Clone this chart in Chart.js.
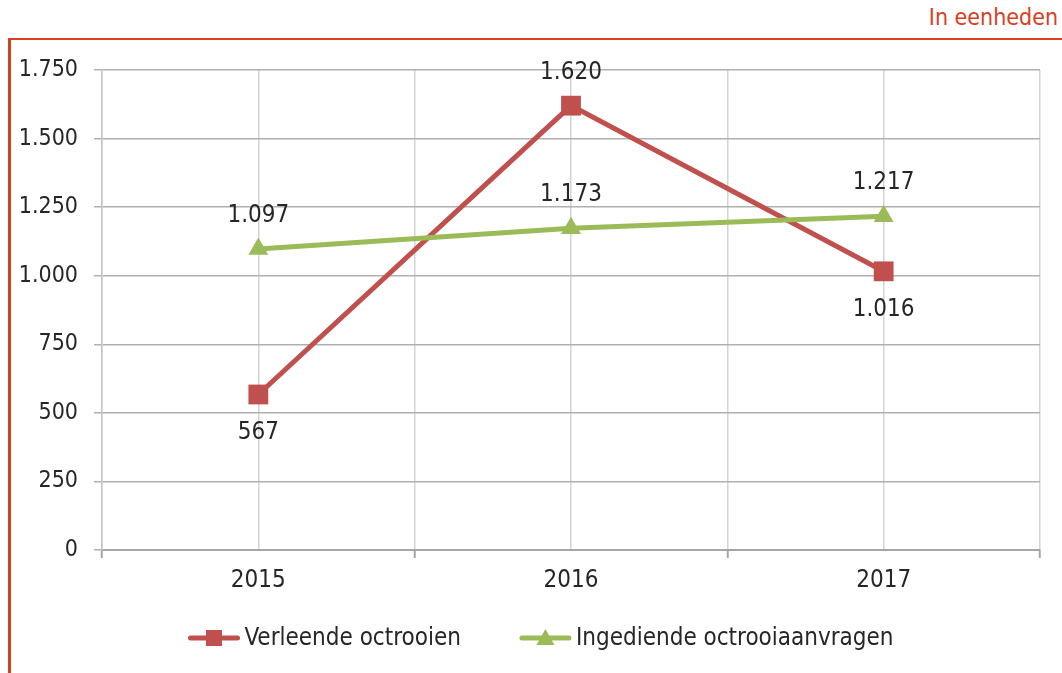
<!DOCTYPE html>
<html>
<head>
<meta charset="utf-8">
<script src="https://cdn.jsdelivr.net/npm/chart.js@4.4.1/dist/chart.umd.min.js"></script>
<style>
  html, body { margin: 0; padding: 0; background: #ffffff; }
  #wrap { position: relative; width: 1062px; height: 673px; overflow: hidden; }
  #unit { position: absolute; right: 4px; top: 4px; font-family: 'Liberation Sans Narrow', 'DejaVu Sans Condensed', Roboto, sans-serif; font-size: 23px; color: #d9401f; }
  #frame { position: absolute; left: 8px; top: 38px; width: 1100px; height: 700px; border-top: 2px solid #d9401f; border-left: 3px solid #d9401f; box-sizing: border-box; }
  #c { position: absolute; left: 0; top: 0; }
</style>
</head>
<body>
<div id="wrap">
  <div id="unit">In eenheden</div>
  <div id="frame"></div>
  <canvas id="c" width="1062" height="673"></canvas>
</div>
<script>
// ---- data ----
const years = ['2015', '2016', '2017'];
const verleend = [567, 1620, 1016];
const ingediend = [1097, 1173, 1217];
const seriesNames = ['Verleende octrooien', 'Ingediende octrooiaanvragen'];
const yTicks = [0, 250, 500, 750, 1000, 1250, 1500, 1750];
const yTickLabels = ['0', '250', '500', '750', '1.000', '1.250', '1.500', '1.750'];

const FONT = "'Liberation Sans Narrow', 'DejaVu Sans Condensed', Roboto, sans-serif";
const RED = '#c0504d';
const GREEN = '#9bbb59';
const TEXT = '#262626';

const pts = arr => arr.map((v, i) => ({ x: 2 * i + 1, y: v }));

// data labels plugin
const labelPlugin = {
  id: 'valueLabels',
  afterDatasetsDraw(chart, args, opts) {
    const ctx = chart.ctx;
    ctx.save();
    ctx.font = '24px ' + FONT;
    ctx.fillStyle = TEXT;
    ctx.textAlign = 'center';
    ctx.textBaseline = 'middle';
    chart.data.datasets.forEach((ds, di) => {
      const meta = chart.getDatasetMeta(di);
      const pos = opts.positions[di];
      meta.data.forEach((el, i) => {
        const v = ds.data[i].y;
        const txt = v >= 1000 ? Math.floor(v / 1000) + '.' + String(v % 1000).padStart(3, '0') : String(v);
        const dy = pos[i] === 'below' ? 38 : -33;
        ctx.fillText(txt, el.x, el.y + dy);
      });
    });
    ctx.restore();
  }
};

// legend plugin: line + marker samples
const legendPlugin = {
  id: 'lineLegend',
  afterDraw(chart, args, opts) {
    const ctx = chart.ctx;
    ctx.save();
    ctx.font = '24px ' + FONT;
    ctx.textBaseline = 'middle';
    const sampleW = 51, gapText = 5, gapItems = 59;
    const dss = chart.data.datasets;
    const widths = dss.map(d => sampleW + gapText + ctx.measureText(d.label).width);
    const total = widths.reduce((a, b) => a + b, 0) + gapItems * (dss.length - 1);
    let x = opts.centerX - total / 2;
    const y = opts.y;
    dss.forEach((d, i) => {
      ctx.strokeStyle = d.borderColor;
      ctx.lineWidth = 5;
      ctx.lineCap = 'round';
      ctx.beginPath();
      ctx.moveTo(x + 2, y);
      ctx.lineTo(x + sampleW - 2, y);
      ctx.stroke();
      ctx.fillStyle = d.borderColor;
      const cx = x + sampleW / 2;
      if (d.pointStyle === 'rect') {
        ctx.fillRect(cx - 8, y - 8, 16, 16);
      } else {
        ctx.beginPath();
        ctx.moveTo(cx, y - 9);
        ctx.lineTo(cx + 9, y + 7);
        ctx.lineTo(cx - 9, y + 7);
        ctx.closePath();
        ctx.fill();
      }
      ctx.fillStyle = TEXT;
      ctx.textAlign = 'left';
      ctx.fillText(d.label, x + sampleW + gapText, y + 1);
      x += widths[i] + gapItems;
    });
    ctx.restore();
  }
};

new Chart(document.getElementById('c'), {
  type: 'line',
  data: {
    datasets: [
      {
        label: seriesNames[0],
        data: pts(verleend),
        borderColor: RED,
        backgroundColor: RED,
        borderWidth: 5,
        pointStyle: 'rect',
        pointRadius: 14,
        pointBorderWidth: 0,
        order: 1
      },
      {
        label: seriesNames[1],
        data: pts(ingediend),
        borderColor: GREEN,
        backgroundColor: GREEN,
        borderWidth: 5,
        pointStyle: 'triangle',
        pointRadius: 11.5,
        pointBorderWidth: 0,
        order: 0
      }
    ]
  },
  options: {
    responsive: false,
    animation: false,
    events: [],
    layout: { padding: { left: 0, right: 22, top: 70, bottom: 73 } },
    plugins: {
      legend: { display: false },
      tooltip: { enabled: false },
      valueLabels: { positions: [['below', 'above', 'below'], ['above', 'above', 'above']] },
      lineLegend: { centerX: 541, y: 638 }
    },
    scales: {
      x: {
        type: 'linear',
        min: 0,
        max: 6,
        afterBuildTicks(scale) {
          scale.ticks = [0, 1, 2, 3, 4, 5, 6].map(v => ({ value: v }));
        },
        afterFit(scale) { scale.height = 50; },
        ticks: {
          color: TEXT,
          font: { family: FONT, size: 24 },
          padding: 8,
          maxRotation: 0,
          autoSkip: false,
          callback: (v) => (v % 2 === 1 ? years[(v - 1) / 2] : '')
        },
        grid: {
          color: '#d4d4d4',
          lineWidth: 1.5,
          tickLength: 8,
          tickColor: (c) => (c.tick && c.tick.value % 2 === 0 ? '#a6a6a6' : 'rgba(0,0,0,0)'),
          tickWidth: 2
        },
        border: { color: '#a6a6a6', width: 2 }
      },
      y: {
        min: 0,
        max: 1750,
        afterBuildTicks(scale) {
          scale.ticks = yTicks.map(v => ({ value: v }));
        },
        afterFit(scale) { scale.width = 102; },
        ticks: {
          color: TEXT,
          font: { family: FONT, size: 23 },
          padding: 16,
          callback: (v) => yTickLabels[yTicks.indexOf(v)]
        },
        grid: {
          color: '#b0b0b0',
          lineWidth: 1.5,
          tickLength: 8,
          tickColor: '#b0b0b0'
        },
        border: { color: '#c4c4c4', width: 1.5 }
      }
    }
  },
  plugins: [labelPlugin, legendPlugin]
});
</script>
</body>
</html>
